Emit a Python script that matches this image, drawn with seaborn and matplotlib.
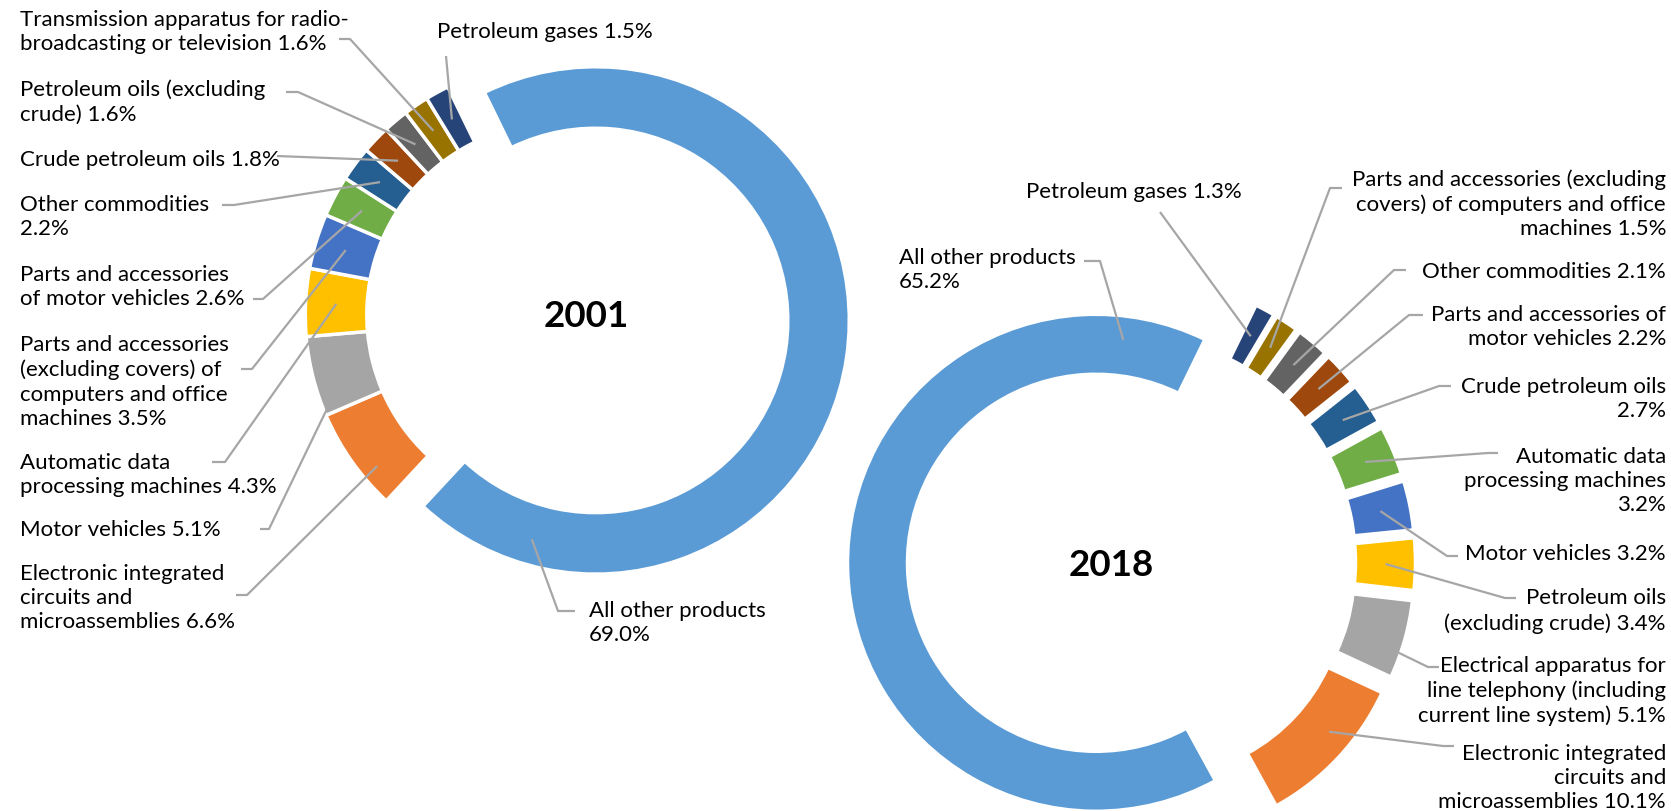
import math
import matplotlib
matplotlib.use("Agg")
import matplotlib.pyplot as plt
import seaborn as sns

# --- data -------------------------------------------------------------
# label text is name + value, the name carries its own line break / space
names_2001 = [
    "All other products\n",
    "Electronic integrated\ncircuits and\nmicroassemblies ",
    "Motor vehicles ",
    "Automatic data\nprocessing machines ",
    "Parts and accessories\n(excluding covers) of\ncomputers and office\nmachines ",
    "Parts and accessories\nof motor vehicles ",
    "Other commodities\n",
    "Crude petroleum oils ",
    "Petroleum oils (excluding\ncrude) ",
    "Transmission apparatus for radio-\nbroadcasting or television ",
    "Petroleum gases ",
]
values_2001 = [69.0, 6.6, 5.1, 4.3, 3.5, 2.6, 2.2, 1.8, 1.6, 1.6, 1.5]

names_2018 = [
    "All other products\n",
    "Electronic integrated\ncircuits and\nmicroassemblies ",
    "Electrical apparatus for\nline telephony (including\ncurrent line system) ",
    "Petroleum oils\n(excluding crude) ",
    "Motor vehicles ",
    "Automatic data\nprocessing machines\n",
    "Crude petroleum oils\n",
    "Parts and accessories of\nmotor vehicles ",
    "Other commodities ",
    "Parts and accessories (excluding\ncovers) of computers and office\nmachines ",
    "Petroleum gases ",
]
values_2018 = [65.2, 10.1, 5.1, 3.4, 3.2, 3.2, 2.7, 2.2, 2.1, 1.5, 1.3]

# Office palette, in series order
colors = ["#5B9BD5", "#ED7D31", "#A5A5A5", "#FFC000", "#4472C4", "#70AD47",
          "#255E91", "#9E480E", "#636363", "#997300", "#264478"]

W, H = 1671, 812
EDGE = 2.5          # white border between slices (pt)
LEADER = "#A6A6A6"

# --- layout (pixel coords, y down) -----------------------------------
# per label: text x, text y, ha, elbow point, stub end, anchor (angle frac, ring frac)
layout_2001 = [
    (589, 623, "left", (558, 612), (575, 612), (0.107, 0.58)),
    (20, 598, "left", (247, 596), (236, 596), (0.69, 0.72)),
    (20, 530, "left", (269, 530), (260, 530), (0.935, 0.95)),
    (20, 475, "left", (225, 463), (212, 463), None),
    (20, 382, "left", (252, 370), (241, 370), None),
    (20, 287, "left", (263, 300), (253, 300), None),
    (20, 217, "left", (234, 206), (222, 206), None),
    (20, 160, "left", (277, 157), None, None),
    (20, 102, "left", (298, 93), (286, 93), None),
    (20, 32, "left", (350, 40), (339, 40), None),
    (437, 32, "left", (446, 57), None, None),
]
layout_2018 = [
    (899, 270, "left", (1100, 262), (1084, 262), (0.081, 0.6)),
    (1666, 778, "right", (1443, 747), (1454, 747), (0.59, 0.6)),
    (1666, 691, "right", (1428, 668), (1439, 668), (0.32, 0.97)),
    (1666, 611, "right", (1505, 599), (1516, 599), None),
    (1666, 554, "right", (1447, 557), (1458, 557), None),
    (1666, 481, "right", (1488, 454), (1498, 454), None),
    (1666, 399, "right", (1439, 387), (1451, 387), None),
    (1666, 327, "right", (1409, 316), (1423, 316), None),
    (1666, 272, "right", (1394, 271), (1406, 271), None),
    (1666, 204, "right", (1330, 189), (1342, 189), None),
    (1026, 192, "left", (1160, 213), None, None),
]

charts = [
    dict(year="2001", names=names_2001, values=values_2001, layout=layout_2001,
         center=(559, 316), radius=253.7, width=61.5, start=116, ccw=False,
         explode=[37, 0, 0, 0, 0, 0, 0, 0, 0, 0, 0], title=(586, 317)),
    dict(year="2018", names=names_2018, values=values_2018, layout=layout_2018,
         center=(1129, 563), radius=248.5, width=60.0, start=64, ccw=True,
         explode=[33] + [38] * 10, title=(1111, 566)),
]


def P(x, y):
    # pixel (y down) -> data (y up)
    return x, H - y


sns.set_theme(style="white")
plt.rcParams["font.family"] = ["Lato", "DejaVu Sans"]

fig = plt.figure(figsize=(W / 100, H / 100), dpi=100)
ax = fig.add_axes([0, 0, 1, 1])

for ch in charts:
    wedges, _ = ax.pie(
        ch["values"], colors=colors, radius=ch["radius"], center=P(*ch["center"]),
        startangle=ch["start"], counterclock=ch["ccw"], explode=ch["explode"],
        wedgeprops=dict(width=ch["width"], edgecolor="white", linewidth=EDGE),
        frame=True,
    )
    ax.text(*P(*ch["title"]), ch["year"], ha="center", va="center",
            fontsize=26.5, fontweight="bold", color="black")

    for w, name, val, lay in zip(wedges, ch["names"], ch["values"], ch["layout"]):
        tx, ty, ha, elbow, stub, anc = lay
        fa, fr = anc if anc else (0.5, 0.5)
        th = math.radians(w.theta1 + fa * (w.theta2 - w.theta1))
        r = (w.r - w.width) + fr * w.width
        ax0 = w.center[0] + r * math.cos(th)
        ay0 = w.center[1] + r * math.sin(th)
        pts = [(ax0, ay0), P(*elbow)]
        if stub:
            pts.append(P(*stub))
        ax.plot([p[0] for p in pts], [p[1] for p in pts], color=LEADER,
                lw=1.6, solid_capstyle="butt", zorder=5)
        ax.text(*P(tx, ty), f"{name}{val:.1f}%", ha=ha, va="center",
                multialignment=ha, fontsize=16, linespacing=1.27, color="black")

ax.set_xlim(0, W)
ax.set_ylim(0, H)
ax.set_aspect("equal")
ax.axis("off")

fig.savefig("out.png", dpi=100)
